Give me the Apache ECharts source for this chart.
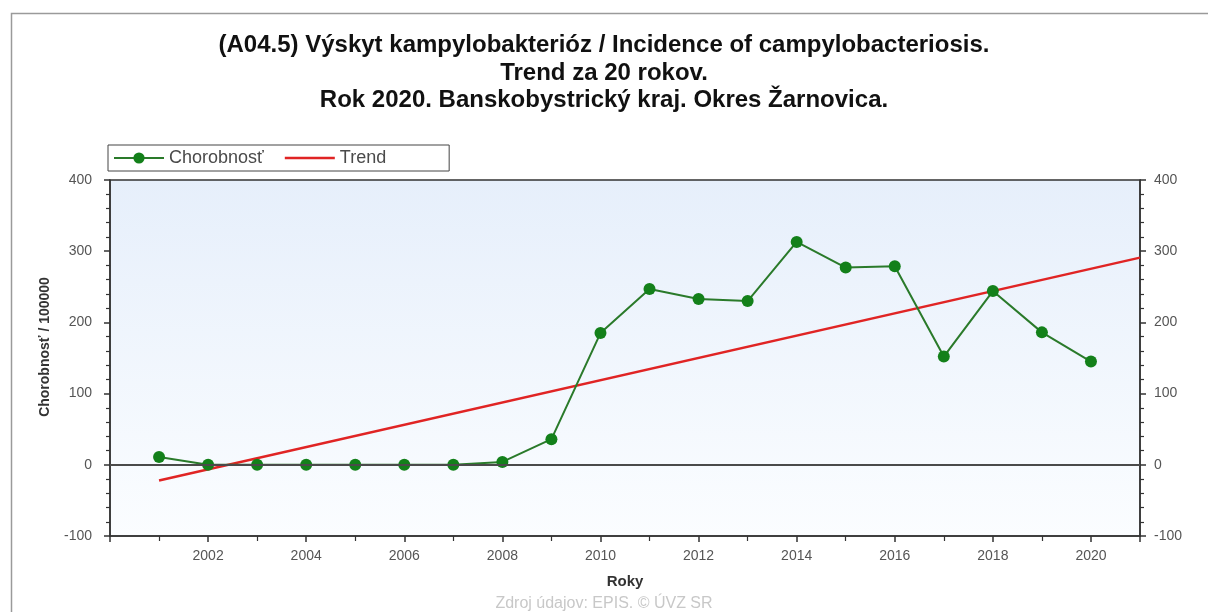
<!DOCTYPE html>
<html>
<head>
<meta charset="utf-8">
<script src="https://cdn.jsdelivr.net/npm/echarts@6/dist/echarts.min.js"></script>
<style>
  html, body { margin: 0; padding: 0; background: #ffffff; }
  #chart { width: 1208px; height: 612px; }
</style>
</head>
<body>
<div id="chart"></div>
<script>
// Years and incidence per 100 000 inhabitants
const years = [2001, 2002, 2003, 2004, 2005, 2006, 2007, 2008, 2009, 2010,
               2011, 2012, 2013, 2014, 2015, 2016, 2017, 2018, 2019, 2020];
const incidence = [11, 0, 0, 0, 0, 0, 0, 4, 36, 185,
                   247, 233, 230, 313, 277, 279, 152, 244, 186, 145];
// Linear trend line end points
const trendYears = [2001, 2021];
const trendValues = [-22, 291];

const titleLines = [
  '(A04.5) Výskyt kampylobakterióz / Incidence of campylobacteriosis.',
  'Trend za 20 rokov.',
  'Rok 2020. Banskobystrický kraj. Okres Žarnovica.'
];
const seriesNames = ['Chorobnosť', 'Trend'];
const yAxisName = 'Chorobnosť / 100000';
const xAxisName = 'Roky';
const sourceText = 'Zdroj údajov: EPIS. © ÚVZ SR';

const FONT = '"Liberation Sans", Arial, sans-serif';
const chart = echarts.init(document.getElementById('chart'), null, { renderer: 'canvas' });

const yAxisBase = {
  type: 'value',
  min: -100,
  max: 400,
  interval: 100,
  axisLine: { show: true, lineStyle: { color: '#333', width: 1.5 } },
  axisTick: { show: true, length: 6, lineStyle: { color: '#333', width: 1.5 } },
  minorTick: { show: true, splitNumber: 5, length: 4, lineStyle: { color: '#333', width: 1.2 } },
  splitLine: { show: false },
  axisLabel: { color: '#555', fontSize: 14, fontFamily: FONT, margin: 18 }
};

// Legend swatch for the trend: a plain bar, corner specks fix the box size
const trendIcon = 'path://M0,0h0.05v0.05h-0.05z M0,5.75h50v2.5h-50z M49.95,13.95h0.05v0.05h-0.05z';

chart.setOption({
  backgroundColor: '#ffffff',
  animation: false,
  textStyle: { fontFamily: FONT },
  graphic: [{
    type: 'rect',
    left: 9, top: 11,
    shape: { width: 1210, height: 620 },
    style: { fill: 'none', stroke: '#9a9a9a', lineWidth: 1.5 },
    silent: true
  }, {
    type: 'text',
    left: 'center',
    top: 596,
    style: { text: sourceText, fill: '#c8c8c8', font: '16px ' + FONT }
  }],
  title: {
    text: titleLines.join('\n'),
    left: 'center',
    top: 27,
    textStyle: { fontSize: 24, fontWeight: 'bold', color: '#111', lineHeight: 27.5, fontFamily: FONT }
  },
  legend: {
    left: 108,
    top: 145,
    padding: [4, 63, 4, 5],
    borderColor: '#444',
    borderWidth: 1,
    backgroundColor: '#fff',
    itemWidth: 50,
    itemHeight: 14,
    itemGap: 21,
    textStyle: { fontSize: 18, color: '#4a4a4a', fontFamily: FONT },
    data: [
      { name: seriesNames[0] },
      { name: seriesNames[1], icon: trendIcon }
    ]
  },
  grid: {
    left: 110, right: 68, top: 180, bottom: 76,
    show: true,
    borderColor: '#333',
    borderWidth: 1.5,
    backgroundColor: new echarts.graphic.LinearGradient(0, 0, 0, 1, [
      { offset: 0, color: '#e6effb' },
      { offset: 1, color: '#fbfdff' }
    ])
  },
  xAxis: {
    type: 'value',
    min: 2000,
    max: 2021,
    interval: 2,
    name: xAxisName,
    nameLocation: 'middle',
    nameGap: 38,
    nameTextStyle: { fontWeight: 'bold', fontSize: 15, color: '#333', fontFamily: FONT },
    axisLine: { show: true, onZero: false, lineStyle: { color: '#333', width: 1.5 } },
    axisTick: { show: true, length: 6, lineStyle: { color: '#333', width: 1.5 } },
    minorTick: { show: true, splitNumber: 2, length: 5, lineStyle: { color: '#333', width: 1.2 } },
    splitLine: { show: false },
    axisLabel: {
      color: '#555', fontSize: 14, fontFamily: FONT, margin: 13,
      formatter: v => (v === 2000 || v === 2021) ? '' : String(v)
    }
  },
  yAxis: [
    Object.assign({}, yAxisBase, {
      position: 'left',
      name: yAxisName,
      nameLocation: 'middle',
      nameGap: 58,
      nameRotate: 90,
      nameTextStyle: {
        fontWeight: 'bold', fontSize: 14, color: '#333', fontFamily: FONT,
        padding: [0, 0, 0, 22]
      }
    }),
    Object.assign({}, yAxisBase, {
      position: 'right',
      axisLabel: Object.assign({}, yAxisBase.axisLabel, { margin: 14 })
    })
  ],
  series: [
    {
      name: seriesNames[0],
      type: 'line',
      data: years.map((y, i) => [y, incidence[i]]),
      symbol: 'circle',
      symbolSize: 12,
      z: 4,
      itemStyle: { color: '#13801a' },
      lineStyle: { color: '#2a7a2a', width: 2 },
      markLine: {
        silent: true,
        symbol: 'none',
        label: { show: false },
        lineStyle: { color: '#4a4a4a', width: 2, type: 'solid' },
        data: [{ yAxis: 0 }]
      }
    },
    {
      name: seriesNames[1],
      type: 'line',
      data: trendYears.map((y, i) => [y, trendValues[i]]),
      symbol: 'none',
      z: 3,
      itemStyle: { color: '#e02424' },
      lineStyle: { color: '#e02424', width: 2.5 }
    }
  ]
});
</script>
</body>
</html>
